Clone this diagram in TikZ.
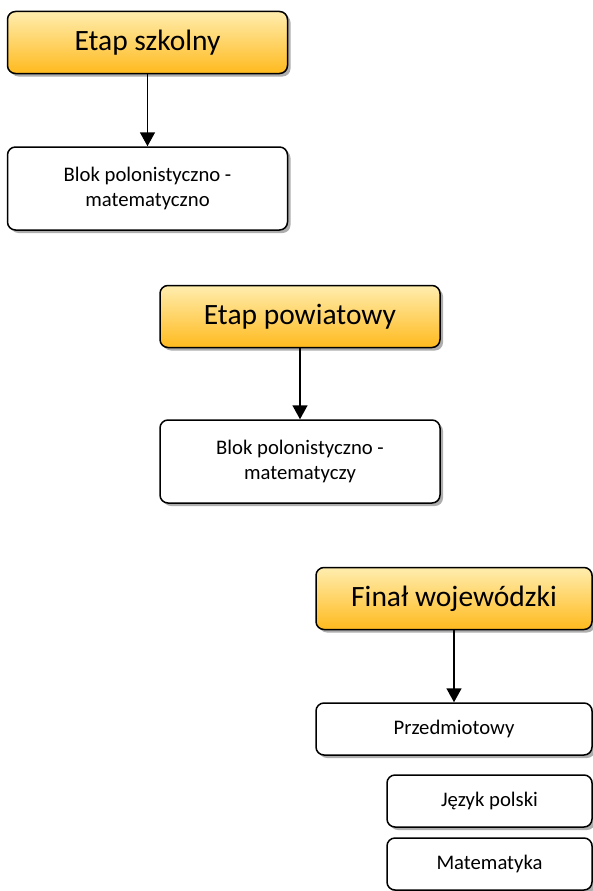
\documentclass[tikz,border=0pt]{standalone}
\usepackage{fontspec}
\setmainfont{Carlito}
\usepackage{tikz}
\usetikzlibrary{shadows,arrows.meta}

\definecolor{stagetop}{HTML}{FFEDAE}
\definecolor{stagebot}{HTML}{FFBA1E}

\begin{document}
\begin{tikzpicture}[x=1pt,y=-1pt,
		box/.style={draw,line width=1.5pt,rounded corners=8pt,align=center,inner sep=0pt,
			drop shadow={shadow xshift=3pt,shadow yshift=-3pt,fill=black!45,opacity=0.7}},
		stage/.style={box,top color=stagetop,bottom color=stagebot,minimum height=62pt,
			font=\fontsize{29.5}{34}\selectfont},
		block/.style={box,fill=white,font=\fontsize{20.7}{24.5}\selectfont},
		link/.style={line width=1.6pt,-{Triangle[width=15pt,length=14pt]}}]
		\useasboundingbox (0,0) rectangle (593,891);
		\node[stage,minimum width=280pt] (szkola) at (147.5,42.5) {Etap szkolny};
		\node[block,minimum width=280pt,minimum height=83pt] (szkolablok) at (147.5,188.5) {Blok polonistyczno -\\matematyczno};
		\node[stage,minimum width=280pt] (powiat) at (300,316.5) {Etap powiatowy};
		\node[block,minimum width=280pt,minimum height=83pt] (powiatblok) at (300,461.5) {Blok polonistyczno -\\matematyczy};
		\node[stage,minimum width=276pt] (final) at (454,598.5) {Finał wojewódzki};
		\node[block,minimum width=276pt,minimum height=52pt] (przedmiot) at (454,729) {Przedmiotowy};
		\node[block,minimum width=205pt,minimum height=52pt] (polski) at (489.5,801) {Język polski};
		\node[block,minimum width=205pt,minimum height=52pt] (mat) at (489.5,864) {Matematyka};
		\draw[link] (szkola) -- (szkolablok);
		\draw[link] (powiat) -- (powiatblok);
		\draw[link] (final) -- (przedmiot);
	\end{tikzpicture}
\end{document}
